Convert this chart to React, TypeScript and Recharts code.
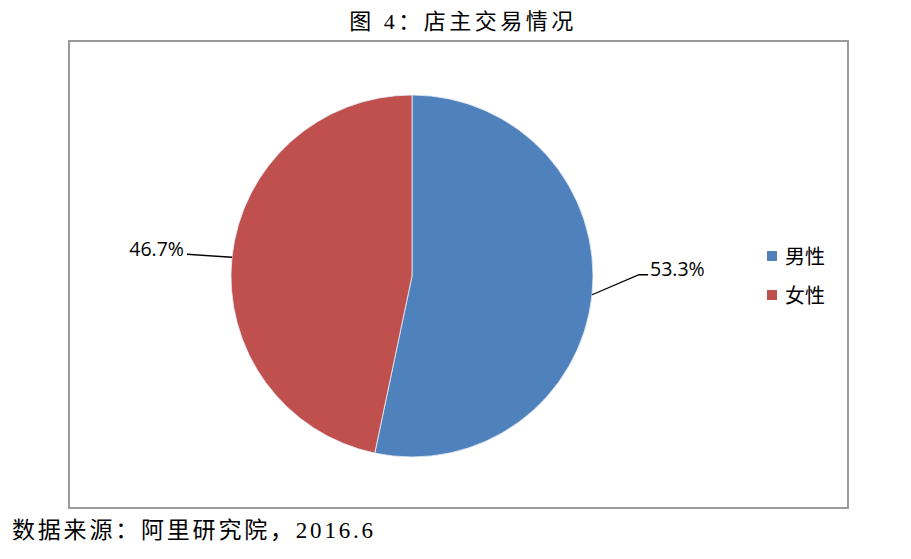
import React from "react";
import { PieChart, Pie, Cell, Legend } from "recharts";

const categories = ["男性", "女性"];
const shares = [53.3, 46.7];
const colors = ["#4F81BD", "#C0504D"];

const data = categories.map((name, i) => ({ name, value: shares[i] }));

const RAD = Math.PI / 180;

const renderLabel = (props: any) => {
  const { cx, cy, midAngle, outerRadius, value } = props;
  const cos = Math.cos(-midAngle * RAD);
  const sin = Math.sin(-midAngle * RAD);
  const sx = cx + outerRadius * cos;
  const sy = cy + outerRadius * sin;
  const right = cos >= 0;
  let points: string;
  let tx: number;
  let ty: number;
  if (right) {
    const ex = sx + 47;
    const ey = sy - 20;
    points = `${sx},${sy} ${ex},${ey} ${ex + 9},${ey}`;
    tx = ex + 11;
    ty = ey - 6;
  } else {
    const ex = sx - 45;
    const ey = sy - 3;
    points = `${sx},${sy} ${ex},${ey}`;
    tx = ex - 3;
    ty = ey - 6;
  }
  return (
    <g>
      <polyline points={points} fill="none" stroke="#000" strokeWidth={1.3} />
      <text
        x={tx}
        y={ty}
        textAnchor={right ? "start" : "end"}
        dominantBaseline="central"
        fontFamily="'Open Sans', Lato, sans-serif"
        fontSize={19.5}
        fill="#000"
      >
        {`${value.toFixed(1)}%`}
      </text>
    </g>
  );
};

const renderLegend = () => (
  <div style={{ fontFamily: "'Noto Sans CJK SC', sans-serif", fontSize: 20, color: "#000" }}>
    {categories.map((c, i) => (
      <div key={c} style={{ display: "flex", alignItems: "center", height: 39 }}>
        <span style={{ width: 10, height: 10, background: colors[i], marginRight: 8, display: "inline-block" }} />
        <span>{c}</span>
      </div>
    ))}
  </div>
);

export default function App() {
  return (
    <div style={{ position: "absolute", left: 0, top: 0, width: 911, height: 559, background: "#fff", overflow: "hidden" }}>
      <div
        style={{
          position: "absolute",
          left: 0,
          top: 7,
          width: 926,
          textAlign: "center",
          fontFamily: "'Liberation Serif', 'Noto Sans CJK SC', serif",
          fontSize: 22,
          letterSpacing: 3.5,
          lineHeight: "30px",
          color: "#000",
        }}
      >
        图 4：店主交易情况
      </div>
      <div
        style={{
          position: "absolute",
          left: 68,
          top: 40,
          width: 777,
          height: 465,
          border: "2px solid #9a9a9a",
        }}
      />
      <div style={{ position: "absolute", left: 0, top: 0 }}>
        <PieChart width={911} height={559} margin={{ top: 0, right: 0, bottom: 0, left: 0 }}>
          <Pie
            data={data}
            dataKey="value"
            nameKey="name"
            cx={412}
            cy={276}
            outerRadius={181}
            startAngle={90}
            endAngle={-270}
            stroke="#e8eef6"
            strokeWidth={0.8}
            label={renderLabel}
            labelLine={false}
            isAnimationActive={false}
          >
            {data.map((d, i) => (
              <Cell key={d.name} fill={colors[i]} />
            ))}
          </Pie>
          <Legend
            content={renderLegend}
            layout="vertical"
            wrapperStyle={{ position: "absolute", left: 767, top: 236, width: 80 }}
          />
        </PieChart>
      </div>
      <div
        style={{
          position: "absolute",
          left: 12,
          top: 515,
          fontFamily: "'Liberation Serif', 'Noto Sans CJK SC', serif",
          fontSize: 23,
          letterSpacing: 2.8,
          lineHeight: "32px",
          color: "#000",
          whiteSpace: "nowrap",
        }}
      >
        数据来源：阿里研究院，2016.6
      </div>
    </div>
  );
}
